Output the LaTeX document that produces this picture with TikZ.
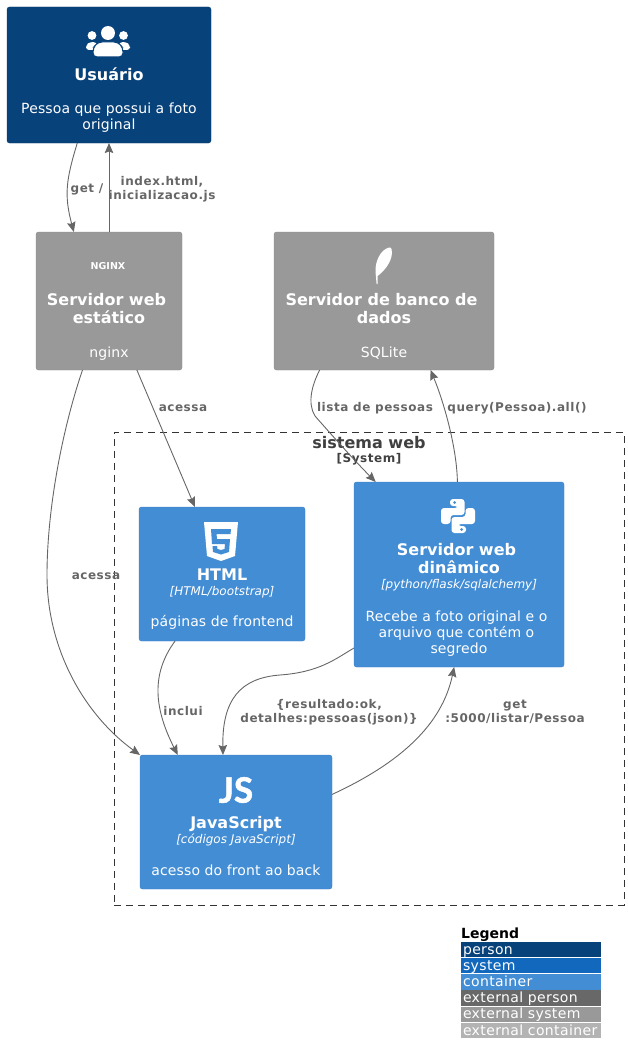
\documentclass[tikz,border=0pt]{standalone}
\usepackage{fontspec}
\setmainfont{DejaVu Sans}
\newfontfamily\bodyfont{DejaVu Sans}[LetterSpace=0.8]
\newfontfamily\relfont{DejaVu Sans}[LetterSpace=4.5]
\newfontfamily\legendfont{DejaVu Sans}[LetterSpace=2.7]
\newfontfamily\jsfont{Lato}[BoldFeatures={FakeBold=1.5}]
\usetikzlibrary{arrows.meta,positioning}
\definecolor{personcol}{HTML}{08427B}
\definecolor{systemcol}{HTML}{1168BD}
\definecolor{containercol}{HTML}{438DD5}
\definecolor{extpersoncol}{HTML}{686868}
\definecolor{extsystemcol}{HTML}{999999}
\definecolor{extcontainercol}{HTML}{B3B3B3}
\definecolor{relcol}{HTML}{666666}
\newcommand{\boxtitle}[1]{{\normalfont\bfseries\fontsize{16}{18}\selectfont #1}}
\newcommand{\boxtech}[1]{{\normalfont\itshape\fontsize{12}{14}\selectfont #1}}
\newcommand{\iconspace}[1]{\rule{0pt}{#1pt}}
\newcommand{\trailsp}{\rule{5pt}{0pt}}
\tikzset{
  box/.style={rectangle,rounded corners=2.5pt,text=white,align=center,inner sep=0pt,outer sep=0pt,
    font=\bodyfont\fontsize{14}{16}\selectfont},
  personbox/.style={box,fill=personcol,draw=personcol!90!black},
  extbox/.style={box,fill=extsystemcol,draw=extsystemcol!90!black},
  contbox/.style={box,fill=containercol,draw=containercol!90!black},
  rel/.style={draw=relcol,line width=.9pt,-{Stealth[length=10pt,width=8.5pt,inset=1.5pt]}},
  rellabel/.style={text=relcol,align=center,inner sep=0pt,font=\relfont\bfseries\fontsize{12}{14.5}\selectfont},
  legendrow/.style={anchor=west,minimum width=140pt,minimum height=15.4pt,inner sep=0pt,outer sep=0pt,
    text=white,text width=136pt,text height=12pt,text depth=3pt,font=\legendfont\fontsize{14}{14}\selectfont},
}
\begin{document}
\begin{tikzpicture}[x=1pt,y=-1pt]
\useasboundingbox (0,0) rectangle (628,1062);

\node (sistema) [rectangle,draw=black!80,dash pattern=on 7pt off 5pt,line width=.8pt,minimum width=510pt,minimum height=473pt,
    inner sep=0pt,outer sep=0pt] at (369,668.5) {};
\node (sistemanome) [text=black!75,inner sep=0pt,align=center,font=\bfseries\fontsize{16}{18}\selectfont] at (369,443) {sistema web};
\node (sistematipo) [text=black!75,inner sep=0pt,font=\relfont\bfseries\fontsize{12}{14}\selectfont] at (369,459) {[System]};

\node (usuario) [personbox,minimum width=204pt,minimum height=136pt] at (109,75)
  {\iconspace{47.8}\\\boxtitle{Usuário}\\[17pt]Pessoa que possui a foto\\original\strut};
\node (nginx) [extbox,minimum width=146pt,minimum height=138pt] at (109,301)
  {\iconspace{48.8}\\\boxtitle{Servidor web\trailsp}\\[2pt]\boxtitle{estático}\\[18pt]nginx\strut};
\node (sqlite) [extbox,minimum width=220pt,minimum height=138pt] at (384,301)
  {\iconspace{48.8}\\\boxtitle{Servidor de banco de\trailsp}\\[2pt]\boxtitle{dados}\\[18pt]SQLite\strut};
\node (html) [contbox,minimum width=166pt,minimum height=134pt] at (222,574)
  {\iconspace{46.8}\\\boxtitle{HTML}\\[-1pt]\boxtech{[HTML/bootstrap]}\\[15pt]páginas de frontend\strut};
\node (python) [contbox,minimum width=210pt,minimum height=185pt] at (459,574.5)
  {\iconspace{47.8}\\\boxtitle{Servidor web\trailsp}\\[2pt]\boxtitle{dinâmico}\\[-1pt]\boxtech{[python/flask/sqlalchemy]}\\[17pt]Recebe a foto original e o\trailsp\\arquivo que contém o\trailsp\\segredo\strut};
\node (js) [contbox,minimum width=192pt,minimum height=134pt] at (236,822)
  {\iconspace{47.8}\\\boxtitle{JavaScript}\\[-1pt]\boxtech{[códigos JavaScript]}\\[16pt]acesso do front ao back\strut};

% icons
\fill[white] (108,33) circle (7) (92,35.5) circle (4.4) (123.5,35.5) circle (4.4);
\fill[white,rounded corners=3pt] (86,50) -- (86,45) -- (90,42) -- (96,42) -- (100,50) -- cycle;
\fill[white,rounded corners=3pt] (130,50) -- (130,45) -- (126,42) -- (120,42) -- (116,50) -- cycle;
\fill[white,draw=personcol,line width=1pt,rounded corners=4pt] (93,57) -- (93,48) -- (98,42) -- (118,42) -- (123,48) -- (123,57) -- cycle;

\node (nginxlogo) [text=white,inner sep=0pt,font=\bfseries\fontsize{9.5}{9.5}\selectfont] at (108,266.5) {NGINX};

\fill[white] (389,247.5) .. controls (380,250) and (375,262) .. (375.5,272) -- (376.6,284) -- (377.6,284)
  -- (377.6,276) .. controls (386,270) and (394,258) .. (391.5,249) .. controls (391,247.5) and (390,247) .. (389,247.5) -- cycle;

\fill[white] (204,522) -- (238,522) -- (235,556) -- (221,561) -- (207,556) -- cycle;
\fill[containercol] (211,529) -- (231,529) -- (230.5,534) -- (216.5,534) -- (217,539) -- (230,539) -- (229,552)
  -- (221,554.5) -- (213,552) -- (212.5,546) -- (217,546) -- (217.5,549) -- (221,550) -- (224.5,549)
  -- (225,544) -- (212,544) -- cycle;

\foreach \rot in {0,180} {
  \begin{scope}[shift={(458,516)},rotate=\rot]
    \fill[white,rounded corners=3pt] (-8,-17) -- (6.5,-17) -- (6.5,-1) -- (-7.5,-1) -- (-7.5,8) -- (-17,8)
      -- (-17,-8) -- (0,-8) -- (0,-10) -- (-8,-10) -- cycle;
    \fill[containercol] (-3.5,-13.5) circle (1.5);
  \end{scope}
}

\node (jslogo) [text=white,inner sep=0pt,font=\jsfont\bfseries\fontsize{35}{35}\selectfont] at (236,790) {JS};

% relations
\draw [rel] (usuario.-115.2) .. controls (66,180) and (64,195) .. (nginx.117.6);
\draw [rel] (nginx.north) -- (usuario.south);
\draw [rel] (nginx.-68.6) -- (html.112);
\draw [rel] (nginx.-111.4) .. controls (62,430) and (47,510) .. (47,575) .. controls (47,650) and (85,715) .. (js.north west);
\draw [rel] (sqlite.-133.7) .. controls (312,385) and (307,403) .. (315,416) .. controls (330,433) and (352,458) .. (python.132.2);
\draw [rel] (python.91.2) .. controls (457,450) and (445,405) .. (sqlite.-56.3);
\draw [rel] (html.-125) .. controls (150,675) and (155,710) .. (js.131.4);
\draw [rel] (python.-145) .. controls (335,659) and (320,672) .. (280,675) .. controls (240,678) and (222,700) .. (js.101);
\draw [rel] (js.16.8) .. controls (400,763) and (442,725) .. (python.-93.7);

\node (lblget) [rellabel] at (87,189) {get /};
\node (lblindex) [rellabel] at (162,189) {index.html,\\inicializacao.js};
\node (lblacessa1) [rellabel] at (183,408) {acessa};
\node (lbllista) [rellabel] at (375,408) {lista de pessoas};
\node (lblquery) [rellabel] at (517,408) {query(Pessoa).all()};
\node (lblacessa2) [rellabel] at (96,576) {acessa};
\node (lblinclui) [rellabel] at (183,711) {inclui};
\node (lblresult) [rellabel] at (329,712) {\{resultado:ok,\\detalhes:pessoas(json)\}};
\node (lblget2) [rellabel] at (515,712) {get\\:5000/listar/Pessoa};

% legend
\node (legendtitle) [anchor=west,inner sep=0pt,font=\bfseries\fontsize{14}{14}\selectfont] at (461,935) {Legend};
\foreach \i/\col/\txt in {0/personcol/person,1/systemcol/system,2/containercol/container,
    3/extpersoncol/external person,4/extsystemcol/external system,5/extcontainercol/external container}
  \node (legend\i) [legendrow,fill=\col] at (461,949.5+16.2*\i) {\txt};

\end{tikzpicture}
\end{document}
